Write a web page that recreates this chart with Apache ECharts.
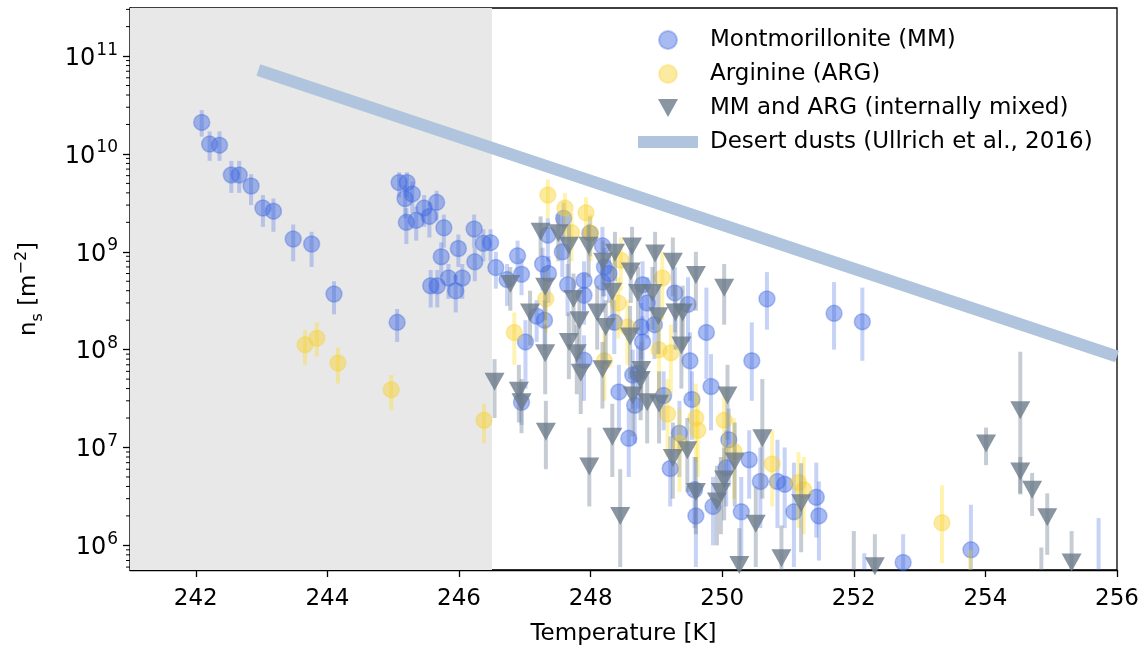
<!DOCTYPE html>
<html>
<head>
<meta charset="utf-8">
<script src="https://cdn.jsdelivr.net/npm/echarts@6/dist/echarts.min.js"></script>
<style>
html, body { margin: 0; padding: 0; background: #fff; }
#chart { width: 1145px; height: 651px; }
</style>
</head>
<body>
<div id="chart"></div>
<script>
// each row: [temperature (K), n_s, lower error, upper error]
var mmData = [
  [242.09, 2.1e10, 1.5e10, 2.8e10], [242.21, 1.26e10, 8.5e9, 1.7e10], [242.36, 1.23e10, 8.5e9, 1.7e10],
  [242.54, 6.1e9, 4.0e9, 8.5e9], [242.66, 6.1e9, 4.0e9, 8.5e9], [242.84, 4.7e9, 3.0e9, 6.2e9],
  [243.02, 2.8e9, 1.8e9, 3.8e9], [243.18, 2.6e9, 1.6e9, 3.5e9], [243.48, 1.35e9, 8e8, 1.9e9],
  [243.76, 1.2e9, 7e8, 1.6e9], [244.10, 3.7e8, 2.3e8, 5.0e8], [245.06, 1.9e8, 1.2e8, 2.6e8],
  [245.09, 5.1e9, 3.6e9, 6.5e9], [245.21, 5.1e9, 3.6e9, 6.5e9], [245.18, 3.5e9, 2.2e9, 4.8e9],
  [245.29, 3.9e9, 2.5e9, 5.2e9], [245.20, 2.0e9, 1.2e9, 2.8e9], [245.35, 2.1e9, 1.3e9, 2.9e9],
  [245.47, 2.8e9, 1.8e9, 3.8e9], [245.55, 2.3e9, 1.4e9, 3.2e9], [245.66, 3.2e9, 2.1e9, 4.2e9],
  [245.77, 1.76e9, 1.1e9, 2.4e9], [246.23, 1.71e9, 1.1e9, 2.4e9], [245.99, 1.08e9, 7e8, 1.5e9],
  [245.73, 8.9e8, 5.5e8, 1.25e9], [246.37, 1.22e9, 8e8, 1.7e9], [246.48, 1.24e9, 8e8, 1.7e9],
  [246.24, 7.9e8, 5e8, 1.1e9], [246.56, 6.9e8, 4.2e8, 1.0e9], [245.84, 5.4e8, 3.3e8, 7.5e8],
  [246.05, 5.4e8, 3.3e8, 7.5e8], [245.57, 4.5e8, 2.7e8, 6.5e8], [245.67, 4.5e8, 2.7e8, 6.5e8],
  [245.95, 4.0e8, 2.4e8, 5.8e8], [246.89, 9.1e8, 5.5e8, 1.3e9], [246.95, 5.9e8, 3.6e8, 8.5e8],
  [246.73, 5.2e8, 2.8e8, 7.5e8], [247.27, 7.5e8, 4e8, 1.1e9], [247.36, 6.0e8, 3e8, 9e8],
  [247.18, 2.2e8, 1.2e8, 3.2e8], [247.30, 2.0e8, 1.0e8, 3.2e8], [247.01, 1.2e8, 4e7, 2.0e8],
  [246.95, 2.9e7, 1.7e7, 4.5e7], [247.59, 2.2e9, 1.3e9, 3.2e9], [247.35, 1.48e9, 8e8, 2.2e9],
  [247.57, 1.0e9, 5.5e8, 1.6e9], [247.99, 1.55e9, 9e8, 2.3e9], [248.18, 1.15e9, 6e8, 1.8e9],
  [247.65, 4.6e8, 2.2e8, 7.5e8], [247.90, 5.1e8, 2.5e8, 8e8], [247.90, 3.6e8, 1.8e8, 6e8],
  [248.18, 4.9e8, 2.4e8, 8e8], [248.21, 7.0e8, 3.5e8, 1.1e9], [248.28, 6.0e8, 3e8, 1e9],
  [248.36, 1.9e8, 9e7, 3.2e8], [248.77, 1.7e8, 8e7, 3e8], [247.90, 7.8e7, 3e7, 1.4e8],
  [248.79, 1.2e8, 5e7, 2.2e8], [248.72, 5.7e7, 2.5e7, 1.1e8], [248.58, 1.24e7, 5e6, 2.5e7],
  [248.43, 3.7e7, 1.5e7, 7e7], [248.67, 2.7e7, 1.1e7, 5.5e7], [248.64, 5.5e7, 2.5e7, 1e8],
  [248.79, 4.6e8, 2e8, 8e8], [249.28, 3.8e8, 1.5e8, 7e8], [249.48, 2.9e8, 1.2e8, 5.5e8],
  [248.86, 3.0e8, 1.3e8, 5.5e8], [248.97, 1.8e8, 8e7, 3.5e8], [249.76, 1.5e8, 5e7, 4.3e8],
  [250.68, 3.3e8, 1.6e8, 6.2e8], [249.51, 7.7e7, 3e7, 1.5e8], [250.45, 7.7e7, 3e7, 1.9e8],
  [249.83, 4.2e7, 1.5e7, 9e7], [249.11, 3.4e7, 1.5e7, 6e7], [249.54, 3.1e7, 1.2e7, 6e7],
  [249.35, 1.4e7, 5e6, 3e7], [249.21, 6.1e6, 2.5e6, 1.3e7], [250.10, 1.2e7, 4e6, 2.5e7],
  [250.06, 6.2e6, 2.5e6, 1.5e7], [250.41, 7.5e6, 3e6, 1.5e7], [250.58, 4.5e6, 1.5e6, 1e7],
  [250.84, 4.5e6, 1.5e6, 1.2e7], [250.95, 4.2e6, 1.5e6, 1e7], [249.60, 2.0e6, 6e5, 4.5e6],
  [249.86, 2.5e6, 1e6, 5e6], [250.29, 2.2e6, 7e5, 5e6], [249.58, 3.7e6, 1.5e6, 8e6],
  [251.70, 2.35e8, 1.0e8, 4.9e8], [252.13, 1.93e8, 7.7e7, 4.3e8], [251.43, 3.1e6, 1.2e6, 7e6],
  [251.09, 2.2e6, 6e5, 7e6], [251.47, 2.0e6, 7e5, 4.5e6], [252.75, 6.7e5, 3e5, 1.3e6],
  [253.78, 9.0e5, 3e5, 2.6e6], [252.16, 4e5, 1.5e5, 8.3e5], [255.72, 3e5, 1e5, 1.9e6]
];

var argData = [
  [243.66, 1.12e8, 7e7, 1.6e8], [243.84, 1.31e8, 8.5e7, 1.9e8], [244.16, 7.3e7, 4.5e7, 1.05e8],
  [244.97, 3.9e7, 2.4e7, 5.5e7], [246.38, 1.9e7, 1.1e7, 2.8e7], [247.35, 3.8e9, 2.2e9, 5.5e9],
  [247.32, 3.3e8, 1.5e8, 5.5e8], [246.84, 1.5e8, 7e7, 2.4e8], [247.61, 2.8e9, 1.6e9, 4e9],
  [247.93, 2.5e9, 1.4e9, 3.6e9], [247.71, 1.57e9, 8e8, 2.5e9], [248.00, 1.55e9, 8e8, 2.4e9],
  [248.46, 8.2e8, 4e8, 1.4e9], [248.42, 3.0e8, 1.3e8, 5.5e8], [248.56, 1.7e8, 7e7, 3.2e8],
  [248.21, 7.7e7, 3e7, 1.5e8], [249.09, 5.4e8, 2e8, 1e9], [249.04, 1.0e8, 3.5e7, 2e8],
  [249.22, 9.3e7, 3.5e7, 1.8e8], [249.17, 2.2e7, 8e6, 5e7], [249.60, 2.0e7, 7e6, 4.5e7],
  [249.63, 1.5e7, 5e6, 3.5e7], [250.03, 1.9e7, 7e6, 4e7], [249.35, 1.1e7, 3.5e6, 2.5e7],
  [250.18, 9.1e6, 3e6, 2e7], [250.76, 6.8e6, 2.5e6, 1.5e7], [251.16, 4.4e6, 1.5e6, 9e6],
  [251.24, 3.7e6, 1.3e6, 8e6], [253.34, 1.7e6, 6.6e5, 4.1e6], [253.77, 5.5e5, 2e5, 9e5]
];

var mixData = [
  [247.24, 1.6e9, 9e8, 2.3e9], [246.78, 4.7e8, 2.5e8, 7e8], [247.31, 4.4e8, 2e8, 7e8],
  [247.08, 2.4e8, 1.1e8, 4e8], [247.31, 9.2e7, 3.5e7, 1.8e8], [246.54, 4.7e7, 2e7, 8e7],
  [246.91, 3.8e7, 1.8e7, 7e7], [246.95, 2.9e7, 1.4e7, 5e7], [247.32, 1.45e7, 6e6, 3e7],
  [247.51, 1.55e9, 8e8, 2.4e9], [247.67, 1.15e9, 5.5e8, 1.9e9], [247.97, 1.15e9, 5.5e8, 1.9e9],
  [248.37, 9.8e8, 5e8, 1.6e9], [248.63, 1.13e9, 6e8, 1.8e9], [248.19, 7.9e8, 3.5e8, 1.3e9],
  [248.61, 6.3e8, 3e8, 1.1e9], [247.74, 3.3e8, 1.4e8, 6e8], [248.33, 3.9e8, 1.6e8, 7e8],
  [248.72, 3.8e8, 1.6e8, 7e8], [247.83, 2.0e8, 8e7, 4e8], [248.10, 2.4e8, 1e8, 4.5e8],
  [248.23, 1.7e8, 7e7, 3.2e8], [248.60, 1.36e8, 5e7, 2.8e8], [247.67, 1.2e8, 5e7, 2.4e8],
  [247.79, 9.2e7, 3.5e7, 1.8e8], [247.85, 5.8e7, 2.2e7, 1.1e8], [248.18, 6.3e7, 2.5e7, 1.2e8],
  [248.77, 6.2e7, 2.4e7, 1.2e8], [247.98, 6.4e6, 2.5e6, 1.6e7], [248.33, 1.29e7, 5e6, 2.8e7],
  [248.64, 3.4e7, 1.3e7, 7e7], [248.76, 4.9e7, 1.9e7, 1e8], [248.45, 2.0e6, 6e5, 6e6],
  [248.98, 9.6e8, 4.5e8, 1.6e9], [249.25, 7.9e8, 3.5e8, 1.4e9], [249.60, 5.8e8, 2.5e8, 1e9],
  [250.03, 4.3e8, 1.8e8, 7.5e8], [248.94, 3.8e8, 1.6e8, 7e8], [249.03, 2.2e8, 9e7, 4.5e8],
  [249.29, 2.4e8, 1e8, 4.5e8], [249.40, 2.4e8, 1e8, 4.5e8], [249.38, 1.1e8, 4e7, 2.4e8],
  [248.86, 2.9e7, 1.1e7, 6e7], [249.04, 2.8e7, 1.1e7, 6e7], [250.08, 3.4e7, 1.2e7, 7e7],
  [250.61, 1.24e7, 3e6, 5e7], [249.25, 7.8e6, 3e6, 1.8e7], [249.47, 9.4e6, 3.5e6, 2e7],
  [249.60, 3.5e6, 1.3e6, 8e6], [250.03, 4.7e6, 1.8e6, 1e7], [249.98, 3.5e6, 1.3e6, 8e6],
  [249.92, 2.8e6, 1e6, 6.5e6], [250.19, 7.2e6, 2.5e6, 1.8e7], [250.51, 1.66e6, 6e5, 4e6],
  [250.26, 6.3e5, 2.5e5, 1.5e6], [250.90, 7.4e5, 3e5, 1.6e6], [251.20, 2.7e6, 8.5e5, 6.9e6],
  [252.32, 6.1e5, 3e5, 1.3e6], [254.01, 1.1e7, 6.6e6, 1.6e7], [254.53, 2.4e7, 3.3e6, 9.5e7],
  [254.53, 5.7e6, 3.4e6, 8e6], [254.71, 3.7e6, 2e6, 5.5e6], [254.94, 1.94e6, 8e5, 3.4e6],
  [255.31, 6.7e5, 3.3e5, 1.4e6], [254.85, 5.5e5, 3e5, 9.5e5], [252.00, 3.5e5, 1.5e5, 1.4e6]
];

var dustLine = [[242.95, 7.2e10], [256, 8.5e7]];
var shadedRange = [241, 246.5];

var xTicks = [242, 244, 246, 248, 250, 252, 254, 256];
var yTicks = [1e6, 1e7, 1e8, 1e9, 1e10, 1e11];
var yMinorTicks = [
  6e5, 7e5, 8e5, 9e5,
  2e6, 3e6, 4e6, 5e6, 6e6, 7e6, 8e6, 9e6,
  2e7, 3e7, 4e7, 5e7, 6e7, 7e7, 8e7, 9e7,
  2e8, 3e8, 4e8, 5e8, 6e8, 7e8, 8e8, 9e8,
  2e9, 3e9, 4e9, 5e9, 6e9, 7e9, 8e9, 9e9,
  2e10, 3e10, 4e10, 5e10, 6e10, 7e10, 8e10, 9e10,
  2e11, 3e11
];

var FONT = 'DejaVu Sans';
var MM_COLOR = 'rgba(65,105,225,0.58)';
var ARG_COLOR = 'rgba(248,208,40,0.55)';
var MIX_COLOR = '#6c7a89';

function errorBars(color) {
  return function (params, api) {
    var hi = api.coord([api.value(0), api.value(2)]);
    var lo = api.coord([api.value(0), api.value(1)]);
    return {
      type: 'line',
      shape: { x1: hi[0], y1: hi[1], x2: lo[0], y2: lo[1] },
      style: { stroke: color, lineWidth: 4 }
    };
  };
}

function points(rows) {
  return rows.map(function (r) { return [r[0], r[1]]; });
}
function bars(rows) {
  return rows.map(function (r) { return [r[0], r[2], r[3]]; });
}

var myChart = echarts.init(document.getElementById('chart'));

var option = {
  backgroundColor: '#fff',
  animation: false,
  grid: {
    left: 130, right: 28, top: 8, bottom: 81,
    show: true, borderColor: '#000', borderWidth: 1.3
  },
  legend: {
    data: [
      { name: 'Montmorillonite (MM)', icon: 'circle' },
      { name: 'Arginine (ARG)', icon: 'circle' },
      { name: 'MM and ARG (internally mixed)', icon: 'path://M0,0L20,0L10,18Z', itemStyle: { color: MIX_COLOR } },
      { name: 'Desert dusts (Ullrich et al., 2016)', icon: 'path://M0,0L60,0L60,12L0,12Z', itemStyle: { color: '#b0c4de' } }
    ],
    orient: 'vertical',
    left: 633, top: 23,
    itemWidth: 60, itemHeight: 18, itemGap: 10,
    textStyle: { fontFamily: FONT, fontSize: 23, color: '#000', lineHeight: 24, padding: [0, 0, 0, 7] }
  },
  xAxis: {
    type: 'value', min: 241, max: 256,
    name: 'Temperature [K]', nameLocation: 'middle', nameGap: 53,
    nameTextStyle: { fontFamily: FONT, fontSize: 23, color: '#000' },
    axisLine: { lineStyle: { color: '#000', width: 1.3 } },
    axisTick: { customValues: xTicks, length: 7, lineStyle: { color: '#000', width: 1.3 } },
    axisLabel: { customValues: xTicks, fontFamily: FONT, fontSize: 23, color: '#000', margin: 18 },
    splitLine: { show: false }
  },
  yAxis: {
    type: 'log', logBase: 10, min: 5.6e5, max: 3.1e11,
    name: '{n|n}{sub|s}{n| [m}{sup|−2}{n|]}', nameLocation: 'middle', nameGap: 84, nameRotate: 90,
    nameTextStyle: {
      fontFamily: FONT, color: '#000',
      rich: {
        n: { fontFamily: FONT, fontSize: 23, color: '#000', verticalAlign: 'bottom', padding: [0, 0, 5, 0] },
        sub: { fontFamily: FONT, fontSize: 16, color: '#000', verticalAlign: 'bottom' },
        sup: { fontFamily: FONT, fontSize: 16, color: '#000', verticalAlign: 'bottom', padding: [0, 0, 16, 0] }
      }
    },
    axisLine: { show: true, lineStyle: { color: '#000', width: 1.3 } },
    axisTick: { show: true, customValues: yTicks, length: 7, lineStyle: { color: '#000', width: 1.3 } },
    axisLabel: {
      customValues: yTicks, margin: 12,
      formatter: function (v) {
        var e = Math.round(Math.log10(v));
        return '{b|10}{s|' + e + '}';
      },
      rich: {
        b: { fontFamily: FONT, fontSize: 24, color: '#000', verticalAlign: 'bottom' },
        s: { fontFamily: FONT, fontSize: 17, color: '#000', verticalAlign: 'bottom', padding: [0, 0, 12, 1] }
      }
    },
    splitLine: { show: false }
  },
  series: [
    {
      name: 'shade', type: 'line', data: [], silent: true, z: 0,
      markArea: {
        silent: true,
        itemStyle: { color: '#e8e8e8' },
        data: [[{ xAxis: shadedRange[0] }, { xAxis: shadedRange[1] }]]
      }
    },
    {
      name: 'minor ticks', type: 'custom', silent: true, clip: false, z: 1,
      data: yMinorTicks.map(function (v) { return [shadedRange[0], v]; }),
      encode: { x: 0, y: 1 },
      renderItem: function (params, api) {
        var p = api.coord([api.value(0), api.value(1)]);
        var x0 = params.coordSys.x;
        return {
          type: 'line',
          shape: { x1: x0 - 4, y1: p[1], x2: x0, y2: p[1] },
          style: { stroke: '#000', lineWidth: 1 }
        };
      }
    },
    {
      name: 'mm err', type: 'custom', clip: true, silent: true, z: 2,
      data: bars(mmData), encode: { x: 0, y: [1, 2] },
      renderItem: errorBars('rgba(65,105,225,0.3)')
    },
    {
      name: 'Montmorillonite (MM)', type: 'scatter', z: 3,
      data: points(mmData), symbol: 'circle', symbolSize: 16,
      itemStyle: { color: MM_COLOR, borderColor: 'rgba(65,105,225,0.45)', borderWidth: 1.5 }
    },
    {
      name: 'arg err', type: 'custom', clip: true, silent: true, z: 4,
      data: bars(argData), encode: { x: 0, y: [1, 2] },
      renderItem: errorBars('rgba(255,215,0,0.3)')
    },
    {
      name: 'Arginine (ARG)', type: 'scatter', z: 5,
      data: points(argData), symbol: 'circle', symbolSize: 16,
      itemStyle: { color: ARG_COLOR, borderColor: 'rgba(248,208,40,0.4)', borderWidth: 1.5 }
    },
    {
      name: 'mix err', type: 'custom', clip: true, silent: true, z: 6,
      data: bars(mixData), encode: { x: 0, y: [1, 2] },
      renderItem: errorBars('rgba(112,128,144,0.4)')
    },
    {
      name: 'MM and ARG (internally mixed)', type: 'scatter', z: 7,
      data: points(mixData), symbol: 'triangle', symbolRotate: 180, symbolSize: [20, 18],
      itemStyle: { color: MIX_COLOR }
    },
    {
      name: 'Desert dusts (Ullrich et al., 2016)', type: 'line', z: 8,
      data: dustLine, symbol: 'none', showSymbol: false,
      lineStyle: { color: '#b0c4de', width: 12, cap: 'butt' }
    }
  ]
};

myChart.setOption(option);
</script>
</body>
</html>
